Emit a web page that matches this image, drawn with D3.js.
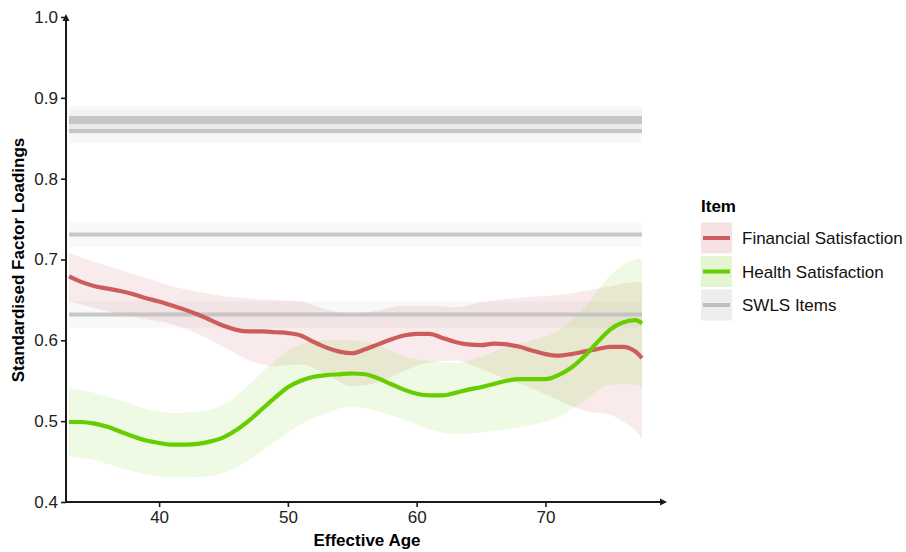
<!DOCTYPE html>
<html>
<head>
<meta charset="utf-8">
<script src="https://cdn.jsdelivr.net/npm/d3@7"></script>
<style>
  html, body { margin: 0; padding: 0; background: #fff; }
  svg { display: block; font-family: "Liberation Sans", Arial, sans-serif; }
</style>
</head>
<body>
<svg id="chart" width="906" height="552"></svg>
<script>
// ---------------- data ----------------
const ages = [33,34,35,36,37,38,39,40,41,42,43,44,45,46,47,48,49,50,51,52,53,54,55,56,57,58,59,60,61,62,63,64,65,66,67,68,69,70,71,72,73,74,75,76,77,77.5];
const financial = [0.679,0.672,0.667,0.664,0.661,0.657,0.652,0.648,0.643,0.638,0.632,0.625,0.618,0.613,0.611,0.611,0.610,0.609,0.606,0.598,0.591,0.586,0.584,0.589,0.595,0.601,0.606,0.608,0.608,0.603,0.598,0.595,0.594,0.596,0.595,0.592,0.587,0.583,0.581,0.583,0.586,0.589,0.592,0.592,0.586,0.578];
const health = [0.499,0.499,0.497,0.493,0.487,0.481,0.476,0.473,0.471,0.471,0.472,0.475,0.480,0.489,0.501,0.515,0.529,0.542,0.550,0.555,0.557,0.558,0.559,0.558,0.553,0.546,0.539,0.534,0.532,0.532,0.535,0.539,0.542,0.546,0.550,0.552,0.552,0.552,0.557,0.566,0.580,0.597,0.613,0.622,0.625,0.621];

const bandAges = [33,35,37,39,41,43,45,47,49,51,53,55,57,59,61,63,65,67,69,71,73,75,76,77,77.5];
const financialUpper = [0.708,0.697,0.687,0.677,0.667,0.660,0.655,0.652,0.650,0.648,0.638,0.633,0.637,0.643,0.643,0.641,0.647,0.651,0.654,0.656,0.661,0.667,0.670,0.672,0.672];
const financialLower = [0.648,0.640,0.632,0.626,0.620,0.608,0.592,0.575,0.568,0.570,0.558,0.543,0.548,0.562,0.573,0.575,0.565,0.552,0.540,0.526,0.513,0.508,0.500,0.488,0.478];
const healthUpper = [0.541,0.535,0.526,0.515,0.510,0.512,0.520,0.545,0.575,0.595,0.600,0.600,0.594,0.580,0.574,0.572,0.580,0.592,0.600,0.612,0.640,0.680,0.693,0.700,0.702];
const healthLower = [0.456,0.452,0.442,0.434,0.430,0.431,0.436,0.452,0.475,0.496,0.510,0.518,0.512,0.502,0.490,0.484,0.486,0.490,0.496,0.505,0.525,0.545,0.546,0.545,0.542];

const swlsLoadings = [0.875, 0.870, 0.859, 0.731, 0.632];
const swlsHalfWidth = [0.015, 0.015, 0.015, 0.015, 0.016];
const swlsRange = [33, 77.5];

const yTicks = [0.4, 0.5, 0.6, 0.7, 0.8, 0.9, 1.0];
const xTicks = [40, 50, 60, 70];
const legendItems = ["Financial Satisfaction", "Health Satisfaction", "SWLS Items"];
const colors = { "Financial Satisfaction": "#CD5C5C", "Health Satisfaction": "#66CD00", "SWLS Items": "#BEBEBE" };

// ---------------- scales ----------------
const svg = d3.select("#chart");
const x = d3.scaleLinear().domain([32.77, 77.5]).range([66, 642]);
const y = d3.scaleLinear().domain([0.4, 1.0]).range([502, 17]);
const xAxisEnd = 667;
const axisColor = "#1a1a1a";

const area = d3.area().curve(d3.curveMonotoneX).x(d => x(d.a)).y0(d => y(d.lo)).y1(d => y(d.hi));
const line = d3.line().curve(d3.curveMonotoneX).x(d => x(d.a)).y(d => y(d.v));

const plot = svg.append("g");

// SWLS ribbons
swlsLoadings.forEach((v, i) => {
  plot.append("path")
    .datum(swlsRange.map(a => ({ a, lo: v - swlsHalfWidth[i], hi: v + swlsHalfWidth[i] })))
    .attr("d", area)
    .attr("fill", colors["SWLS Items"]).attr("fill-opacity", 0.1);
});

// financial / health ribbons
plot.append("path")
  .datum(bandAges.map((a, i) => ({ a, lo: financialLower[i], hi: financialUpper[i] })))
  .attr("d", area).attr("fill", colors["Financial Satisfaction"]).attr("fill-opacity", 0.12);
plot.append("path")
  .datum(bandAges.map((a, i) => ({ a, lo: healthLower[i], hi: healthUpper[i] })))
  .attr("d", area).attr("fill", colors["Health Satisfaction"]).attr("fill-opacity", 0.11);

// SWLS lines
swlsLoadings.forEach(v => {
  plot.append("path")
    .datum(swlsRange.map(a => ({ a, v })))
    .attr("d", line)
    .attr("fill", "none").attr("stroke", colors["SWLS Items"]).attr("stroke-opacity", 0.85).attr("stroke-width", 4);
});

// financial / health lines
plot.append("path")
  .datum(ages.map((a, i) => ({ a, v: financial[i] })))
  .attr("d", line).attr("fill", "none")
  .attr("stroke", colors["Financial Satisfaction"]).attr("stroke-width", 4.2);
plot.append("path")
  .datum(ages.map((a, i) => ({ a, v: health[i] })))
  .attr("d", line).attr("fill", "none")
  .attr("stroke", colors["Health Satisfaction"]).attr("stroke-width", 4.2);

// ---------------- axes ----------------
const yAxis = svg.append("g").attr("transform", "translate(66,0)")
  .call(d3.axisLeft(y).tickValues(yTicks).tickFormat(d3.format(".1f")).tickSize(5).tickSizeOuter(0).tickPadding(3));
yAxis.select(".domain").remove();
yAxis.selectAll(".tick line").attr("stroke", axisColor).attr("stroke-width", 1.6);
yAxis.selectAll(".tick text").attr("fill", "#222").style("font-size", "17px");

const xAxis = svg.append("g").attr("transform", "translate(0,502)")
  .call(d3.axisBottom(x).tickValues(xTicks).tickFormat(d3.format("d")).tickSize(5).tickSizeOuter(0).tickPadding(4));
xAxis.select(".domain").remove();
xAxis.selectAll(".tick line").attr("stroke", axisColor).attr("stroke-width", 1.6);
xAxis.selectAll(".tick text").attr("fill", "#222").style("font-size", "17px");

// axis lines with arrows
svg.append("line").attr("x1", 66).attr("x2", 66).attr("y1", 503).attr("y2", 19)
  .attr("stroke", axisColor).attr("stroke-width", 2);
svg.append("path").attr("d", `M66,14 L62.5,21 L69.5,21 Z`).attr("fill", axisColor);
svg.append("line").attr("x1", 65).attr("x2", xAxisEnd - 3).attr("y1", 502).attr("y2", 502)
  .attr("stroke", axisColor).attr("stroke-width", 2);
svg.append("path").attr("d", `M${xAxisEnd},502 L${xAxisEnd - 7},498.5 L${xAxisEnd - 7},505.5 Z`).attr("fill", axisColor);

// axis titles
svg.append("text").attr("x", 367).attr("y", 546).attr("text-anchor", "middle")
  .style("font-size", "17px").style("font-weight", "bold").attr("fill", "#000").text("Effective Age");
svg.append("text").attr("transform", "translate(24,260) rotate(-90)").attr("text-anchor", "middle")
  .style("font-size", "17px").style("font-weight", "bold").attr("fill", "#000").text("Standardised Factor Loadings");

// ---------------- legend ----------------
const legend = svg.append("g").attr("transform", "translate(701,0)");
legend.append("text").attr("x", 0).attr("y", 212)
  .style("font-size", "17px").style("font-weight", "bold").attr("fill", "#000").text("Item");
legendItems.forEach((name, i) => {
  const cy = 238 + i * 33.5;
  legend.append("rect").attr("x", 0).attr("y", cy - 15.5).attr("width", 31).attr("height", 31)
    .attr("fill", colors[name]).attr("fill-opacity", name === "SWLS Items" ? 0.28 : 0.18);
  legend.append("line").attr("x1", 2).attr("x2", 29).attr("y1", cy).attr("y2", cy)
    .attr("stroke", colors[name]).attr("stroke-width", 4);
  legend.append("text").attr("x", 41).attr("y", cy + 6)
    .style("font-size", "17px").attr("fill", "#111").text(name);
});
</script>
</body>
</html>
